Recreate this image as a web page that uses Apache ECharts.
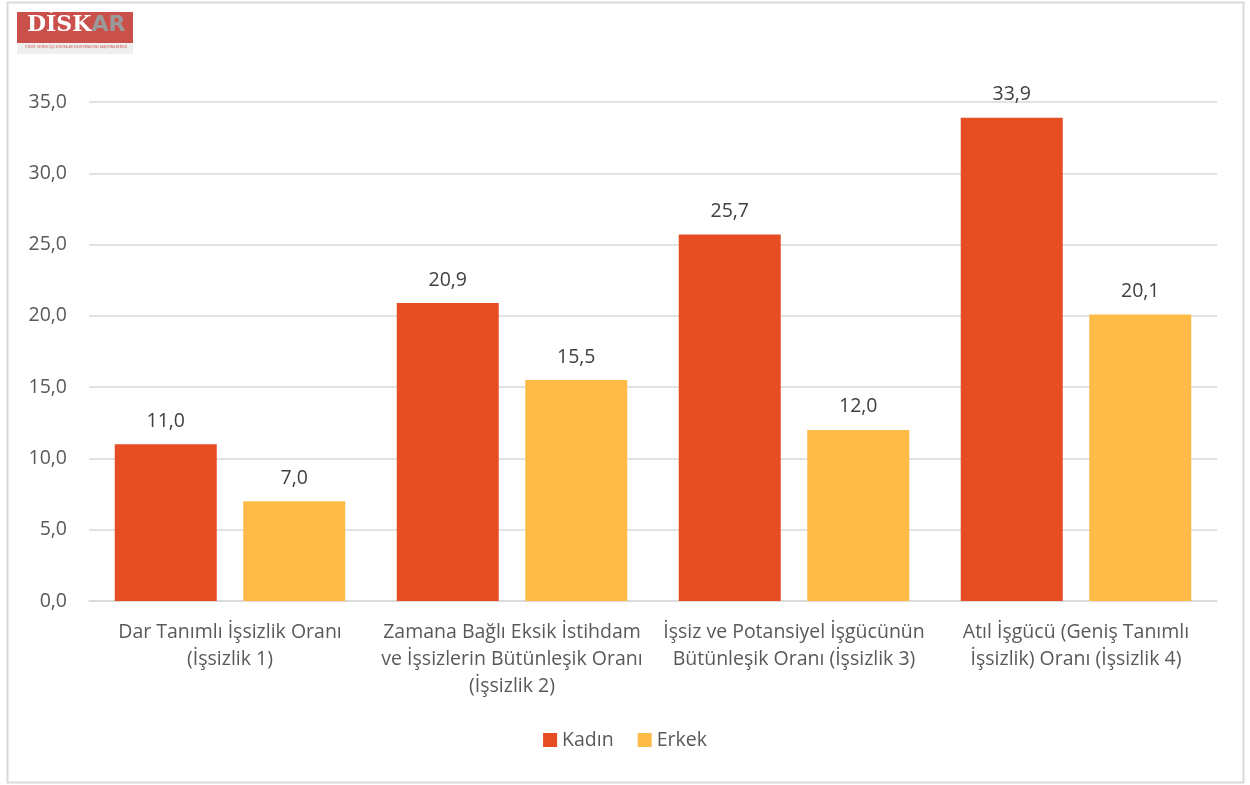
<!DOCTYPE html>
<html>
<head>
<meta charset="utf-8">
<script src="https://cdn.jsdelivr.net/npm/echarts@6/dist/echarts.min.js"></script>
<style>
html, body { margin: 0; padding: 0; background: #fff; }
#chart { width: 1250px; height: 785px; }
</style>
</head>
<body>
<div id="chart"></div>
<script>
var categories = [
	'Dar Tanımlı İşsizlik Oranı\n(İşsizlik 1)',
	'Zamana Bağlı Eksik İstihdam\nve İşsizlerin Bütünleşik Oranı\n(İşsizlik 2)',
	'İşsiz ve Potansiyel İşgücünün\nBütünleşik Oranı (İşsizlik 3)',
	'Atıl İşgücü (Geniş Tanımlı\nİşsizlik) Oranı (İşsizlik 4)'
];
var kadin = [11.0, 20.9, 25.7, 33.9];
var erkek = [7.0, 15.5, 12.0, 20.1];

var fontFam = '"Open Sans", "Noto Sans", sans-serif';

function fmt(v) {
	return v.toFixed(1).replace('.', ',');
}

var myChart = echarts.init(document.getElementById('chart'));
var options = {
	animation: false,
	backgroundColor: '#ffffff',
	textStyle: { fontFamily: fontFam },
	grid: {
		left: 89,
		right: 33,
		top: 102,
		bottom: 184
	},
	legend: {
		data: ['Kadın', 'Erkek'],
		bottom: 30,
		left: 'center',
		itemWidth: 14,
		itemHeight: 14,
		itemGap: 24,
		icon: 'rect',
		textStyle: { fontFamily: fontFam, fontSize: 19.5, color: '#595959' }
	},
	xAxis: {
		type: 'category',
		data: categories,
		axisTick: { show: false },
		axisLine: { lineStyle: { color: '#d9d9d9', width: 1.5 } },
		axisLabel: {
			interval: 0,
			margin: 18,
			fontSize: 19.5,
			lineHeight: 27,
			color: '#595959',
			fontFamily: fontFam
		}
	},
	yAxis: {
		type: 'value',
		min: 0,
		max: 35,
		interval: 5,
		axisLine: { show: false },
		axisTick: { show: false },
		splitLine: { lineStyle: { color: '#d9d9d9', width: 1.5 } },
		axisLabel: {
			margin: 22,
			fontSize: 19.5,
			color: '#595959',
			fontFamily: fontFam,
			formatter: function (v) { return fmt(v); }
		}
	},
	series: [
		{
			name: 'Kadın',
			type: 'bar',
			data: kadin,
			barWidth: 102,
			barGap: '26%',
			itemStyle: { color: '#E64D23' },
			label: {
				show: true,
				position: 'top',
				distance: 13,
				fontSize: 19.5,
				color: '#404040',
				fontFamily: fontFam,
				formatter: function (p) { return fmt(p.value); }
			}
		},
		{
			name: 'Erkek',
			type: 'bar',
			data: erkek,
			barWidth: 102,
			barGap: '26%',
			itemStyle: { color: '#FFBB48' },
			label: {
				show: true,
				position: 'top',
				distance: 13,
				fontSize: 19.5,
				color: '#404040',
				fontFamily: fontFam,
				formatter: function (p) { return fmt(p.value); }
			}
		}
	],
	graphic: [
		{
			type: 'rect',
			silent: true,
			shape: { x: 7.5, y: 2.5, width: 1236, height: 780 },
			style: { fill: 'none', stroke: '#d9d9d9', lineWidth: 2 }
		},
		//logo
		{
			type: 'rect',
			silent: true,
			shape: { x: 17, y: 12, width: 116, height: 31 },
			style: { fill: '#c9504b' }
		},
		{
			type: 'rect',
			silent: true,
			shape: { x: 17, y: 43, width: 116, height: 11 },
			style: { fill: '#efefef' }
		},
		{
			type: 'text',
			silent: true,
			left: 27,
			top: 14,
			style: {
				text: '{w|DİSK}{g|AR}',
				rich: {
					w: { fill: '#ffffff', fontSize: 22, fontWeight: 'bold', fontFamily: '"DejaVu Serif", serif' },
					g: { fill: '#9a9a9a', fontSize: 22, fontWeight: 'bold', fontFamily: '"DejaVu Sans", sans-serif' }
				}
			}
		},
		{
			type: 'text',
			silent: true,
			left: 25,
			top: 46,
			style: {
				text: 'TÜRKİYE DEVRİMCİ İŞÇİ SENDİKALARI KONFEDERASYONU ARAŞTIRMA MERKEZİ',
				fill: '#c9504b',
				fontSize: 2.8,
				fontFamily: fontFam
			}
		}
	]
};
myChart.setOption(options);
</script>
</body>
</html>
